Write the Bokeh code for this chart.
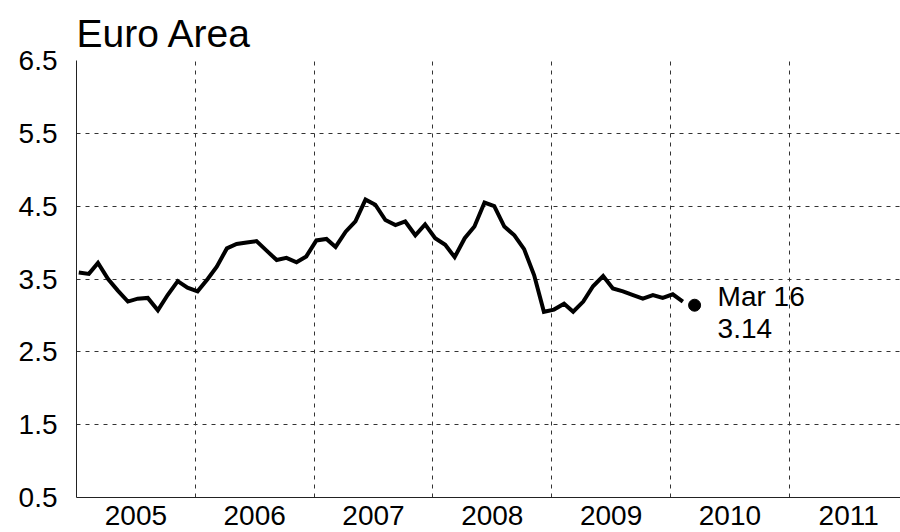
import pandas as pd
from bokeh.plotting import figure
from bokeh.models import Range1d, FixedTicker, Label, ColumnDataSource
from bokeh.embed import file_html
from bokeh.resources import INLINE

# ---- data ----
first_month = "2005-01-01"
values = [3.59, 3.57, 3.72, 3.50, 3.34, 3.19, 3.23, 3.24, 3.07, 3.28, 3.47, 3.38,
          3.33, 3.50, 3.67, 3.92, 3.98, 4.00, 4.02, 3.89, 3.76, 3.79, 3.73, 3.81,
          4.03, 4.05, 3.94, 4.15, 4.29, 4.59, 4.52, 4.31, 4.24, 4.29, 4.10, 4.25,
          4.06, 3.97, 3.80, 4.06, 4.22, 4.55, 4.50, 4.22, 4.10, 3.91, 3.55, 3.05,
          3.08, 3.16, 3.05, 3.19, 3.40, 3.54, 3.37, 3.33, 3.28, 3.23, 3.28, 3.24,
          3.29, 3.19]
last_date = "2010-03-16"
last_value = 3.14
last_label = "Mar 16"
year_labels = ["2005", "2006", "2007", "2008", "2009", "2010", "2011"]
y_ticks = [0.5, 1.5, 2.5, 3.5, 4.5, 5.5, 6.5]
title_text = "Euro Area"


def frac_year(ts):
    ts = pd.Timestamp(ts)
    start = pd.Timestamp(year=ts.year, month=1, day=1)
    end = pd.Timestamp(year=ts.year + 1, month=1, day=1)
    return ts.year + (ts - start) / (end - start)


dates = pd.date_range(first_month, periods=len(values), freq="MS") + pd.Timedelta(days=7)
xs = [frac_year(d) for d in dates]
src = ColumnDataSource(dict(x=xs, y=values))

years = [int(y) for y in year_labels]
FONT = "Liberation Sans"

p = figure(width=900, height=532, output_backend="svg", toolbar_location=None,
           x_range=Range1d(years[0], years[0] + (900 - 76) / 118.8), y_range=Range1d(0.5, 6.5),
           min_border_left=76, min_border_right=0, min_border_top=60, min_border_bottom=35)
p.outline_line_color = None
p.background_fill_color = "white"

p.title.text = title_text
p.title.text_font = FONT
p.title.text_font_size = "39px"
p.title.text_font_style = "normal"
p.title.text_color = "black"
p.title.align = "left"
p.title.offset = 0
p.title.standoff = 12

# axes
p.xaxis.ticker = FixedTicker(ticks=[y + 0.5 for y in years])
p.xaxis.major_label_overrides = {y + 0.5: lab for y, lab in zip(years, year_labels)}
p.yaxis.ticker = FixedTicker(ticks=y_ticks)
p.yaxis.major_label_overrides = {v: f"{v:.1f}" for v in y_ticks}
for ax in (p.xaxis[0], p.yaxis[0]):
    ax.major_tick_in = 0
    ax.major_tick_out = 0
    ax.minor_tick_in = 0
    ax.minor_tick_out = 0
    ax.major_label_text_font = FONT
    ax.major_label_text_font_size = "28px"
    ax.major_label_text_color = "black"
    ax.axis_line_color = "#222222"
    ax.axis_line_width = 1
p.yaxis.major_label_standoff = 19
p.xaxis.major_label_standoff = 8

# grids
p.xgrid.ticker = FixedTicker(ticks=years[1:])
p.ygrid.ticker = FixedTicker(ticks=y_ticks)
for g in (p.xgrid[0], p.ygrid[0]):
    g.grid_line_color = "#333333"
    g.grid_line_dash = "4 5"
    g.grid_line_width = 1

p.line("x", "y", source=src, line_color="black", line_width=4, line_join="miter")

lx = frac_year(last_date)
p.scatter([lx], [last_value], size=12, color="black")
p.add_layout(Label(x=lx, y=last_value, x_offset=23, y_offset=9, text=last_label,
                   text_font=FONT, text_font_size="28px", text_color="black",
                   text_baseline="alphabetic"))
p.add_layout(Label(x=lx, y=last_value, x_offset=23, y_offset=-23, text=f"{last_value:.2f}",
                   text_font=FONT, text_font_size="28px", text_color="black",
                   text_baseline="alphabetic"))

open("out.html", "w").write(file_html(p, INLINE))
